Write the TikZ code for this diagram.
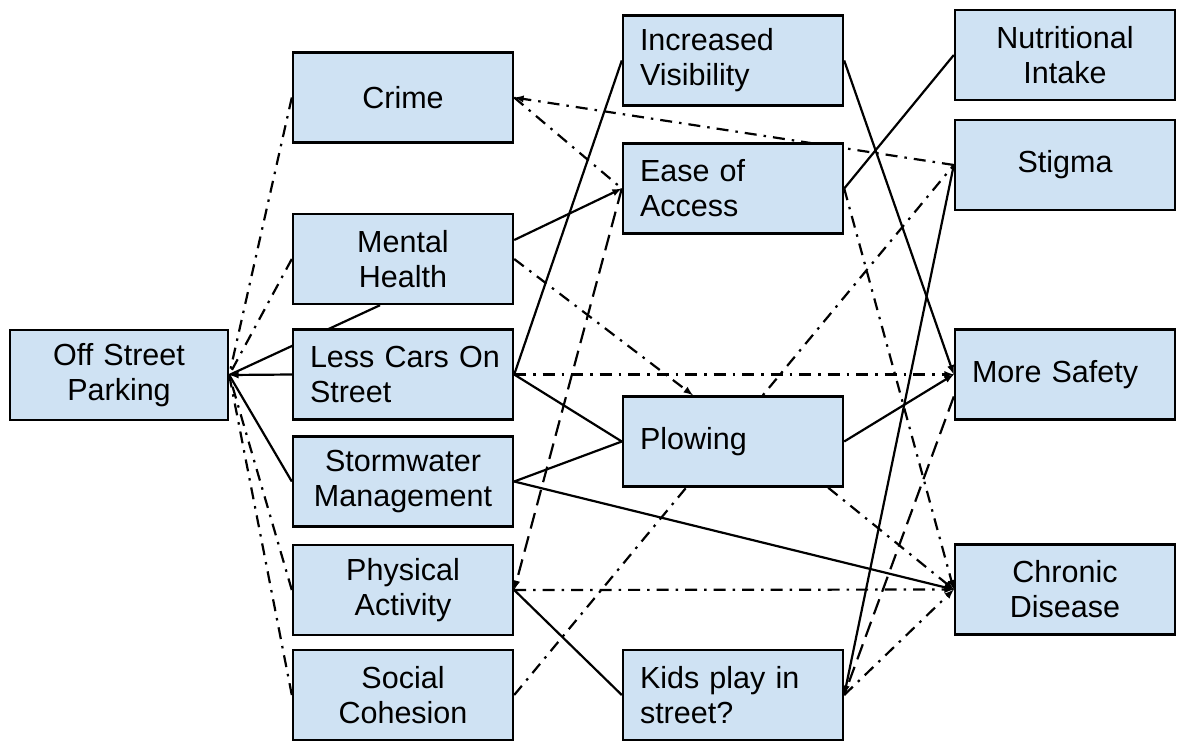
\documentclass[tikz,border=0pt]{standalone}
\usepackage{fontspec}
\setmainfont{Liberation Sans}
\usetikzlibrary{arrows,backgrounds}
\definecolor{boxblue}{RGB}{207,226,243}

\tikzset{
  box/.style={draw, fill=boxblue, line width=2.4pt, minimum width=220pt, minimum height=90pt,
    text width=194pt, inner xsep=13pt, align=center, font=\fontsize{30.5}{35}\selectfont},
  leftbox/.style={box, align=left, text width=186pt, inner xsep=17pt},
  link/.style={line width=2.2pt},
  dashdot/.style={link, dash pattern=on 12pt off 7pt on 2.5pt off 7pt},
  longdash/.style={link, dash pattern=on 16pt off 8pt},
}

\begin{document}
\begin{tikzpicture}[x=1pt, y=-1pt]
        \useasboundingbox (0,0) rectangle (1185,750);

        % first column
        \node [box, minimum width=218pt, text width=192pt] (osp) at (119,375) {Off Street\\Parking};

        % second column
        \node [box] (crime) at (403,97.5) {Crime};
        \node [box] (mental) at (403,259) {Mental\\Health};
        \node [leftbox] (lesscars) at (403,374.5) {\mbox{Less Cars On}\\Street};
        \node [box] (storm) at (403,481.5) {Stormwater\\Management};
        \node [box] (phys) at (403,590) {Physical\\Activity};
        \node [box] (social) at (403,695) {Social\\Cohesion};

        % third column
        \node [leftbox] (visib) at (733,60.5) {Increased\\Visibility};
        \node [leftbox] (access) at (733,188.5) {Ease of\\Access};
        \node [leftbox] (plow) at (733,441.5) {Plowing};
        \node [leftbox] (kids) at (733,695) {Kids play in\\street?};

        % fourth column
        \node [box] (nutri) at (1065,55) {Nutritional\\Intake};
        \node [box] (stigma) at (1065,165) {Stigma};
        \node [leftbox] (safety) at (1065,374.5) {More Safety};
        \node [box] (chronic) at (1065,589.5) {Chronic\\Disease};

        \begin{scope}[on background layer]
        % into off street parking
        \draw [dashdot] (crime.west) -- (osp.east);
        \draw [dashdot] (mental.west) -- (osp.east);
        \draw [link] ([xshift=-23pt]mental.south) -- (osp.east);
        \draw [link, -latex] (lesscars.west) -- (osp.east);
        \draw [link] (storm.west) -- (osp.east);
        \draw [dashdot] (phys.west) -- (osp.east);
        \draw [dashdot] (social.west) -- (osp.east);

        % second to third column
        \draw [dashdot, -latex] (stigma.west) -- (crime.east);
        \draw [dashdot] (crime.east) -- (access.west);
        \draw [link, -latex] ([yshift=19pt]mental.east) -- (access.west);
        \draw [dashdot, -latex] (mental.east) -- ([xshift=-40pt]plow.north);
        \draw [link] (lesscars.east) -- (visib.west);
        \draw [dashdot, -latex] (lesscars.east) -- (safety.west);
        \draw [link] (lesscars.east) -- (plow.west);
        \draw [link] (storm.east) -- (plow.west);
        \draw [link, -latex] (storm.east) -- (chronic.west);
        \draw [longdash, -latex] (access.west) -- (phys.east);
        \draw [dashdot, -latex] (phys.east) -- (chronic.west);
        \draw [link] (phys.east) -- (kids.west);
        \draw [dashdot] (social.east) -- (stigma.west);

        % third to fourth column
        \draw [link, -latex] (visib.east) -- (safety.west);
        \draw [link] (access.east) -- (nutri.west);
        \draw [dashdot, -latex] (access.east) -- (chronic.west);
        \draw [link, -latex] (stigma.west) -- (kids.east);
        \draw [link, -latex] (plow.east) -- (safety.west);
        \draw [dashdot, -latex] ([xshift=-16pt]plow.south east) -- (chronic.west);
        \draw [longdash] ([yshift=-22pt]safety.west) -- (kids.east);
        \draw [dashdot, -latex] (kids.east) -- (chronic.west);
        \end{scope}
\end{tikzpicture}
\end{document}
